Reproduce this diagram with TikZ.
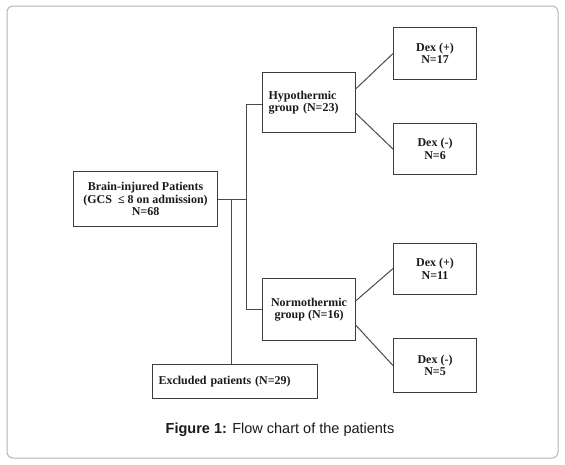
\documentclass[tikz,border=0pt]{standalone}
\usepackage{fontspec}
\setmainfont{Liberation Serif}
\newfontfamily\capfont{Liberation Sans}
\usetikzlibrary{calc}
\definecolor{boxline}{HTML}{3C3C3C}
\definecolor{conline}{HTML}{4A4A4A}
\definecolor{frameline}{HTML}{B4B4B4}
\definecolor{txt}{HTML}{1A1A1A}
\tikzset{
  fbox/.style={draw=boxline, line width=1.1pt, inner sep=0pt, anchor=north west,
    text=txt, font=\fontsize{12}{12.5}\selectfont\bfseries, align=center},
  lbox/.style={fbox, align=left, inner xsep=6pt},
  conn/.style={draw=conline, line width=1pt},
}
\begin{document}
\begin{tikzpicture}[x=1pt,y=-1pt]
\useasboundingbox (0,0) rectangle (565,464);
\draw[frameline, line width=1pt, rounded corners=6pt] (7,6) rectangle (558,458);
\node[fbox, minimum width=144pt, minimum height=55pt] (brain) at (73,171)
  {Brain-injured Patients\\(GCS\ \ ≤ 8 on admission)\\N=68};
\node[lbox, text width=81pt, minimum height=60pt] (hypo) at (262,72)
  {Hypothermic\\group (N=23)};
\node[fbox, minimum width=93pt, minimum height=62pt] (normo) at (262,278)
  {Normothermic\\group (N=16)};
\node[fbox, minimum width=83pt, minimum height=52pt] (dexa) at (393,27)
  {Dex (+)\\N=17};
\node[fbox, minimum width=83pt, minimum height=51pt] (dexb) at (393,123)
  {Dex (-)\\N=6};
\node[fbox, minimum width=83pt, minimum height=51pt] (dexc) at (393,243)
  {Dex (+)\\N=11};
\node[fbox, minimum width=83pt, minimum height=54pt] (dexd) at (393,338)
  {Dex (-)\\N=5};
\node[lbox, text width=153pt, minimum height=34pt] (excl) at (152,364)
  {Excluded patients (N=29)};
\coordinate (sx) at (246,0);
\coordinate (ex) at (231,0);
\draw[conn] (brain.east) -- (brain.east -| sx);
\draw[conn] ([yshift=-2pt]hypo.west) -- ([yshift=-2pt]hypo.west -| sx) -- (normo.west -| sx) -- (normo.west);
\draw[conn] (brain.east -| ex) -- (excl.north -| ex);
\draw[conn] ([yshift=14pt]hypo.east) -- ([yshift=0pt]dexa.west);
\draw[conn] ([yshift=-11pt]hypo.east) -- ([yshift=0pt]dexb.west);
\draw[conn] ([yshift=9pt]normo.east) -- ([yshift=0.5pt]dexc.west);
\draw[conn] ([yshift=-16pt]normo.east) -- ([yshift=0pt]dexd.west);
\node[anchor=base, font=\capfont\fontsize{14.5}{16}\selectfont, text=txt] (cap) at (280,433)
  {\textbf{Figure 1:} Flow chart of the patients};
\end{tikzpicture}
\end{document}
